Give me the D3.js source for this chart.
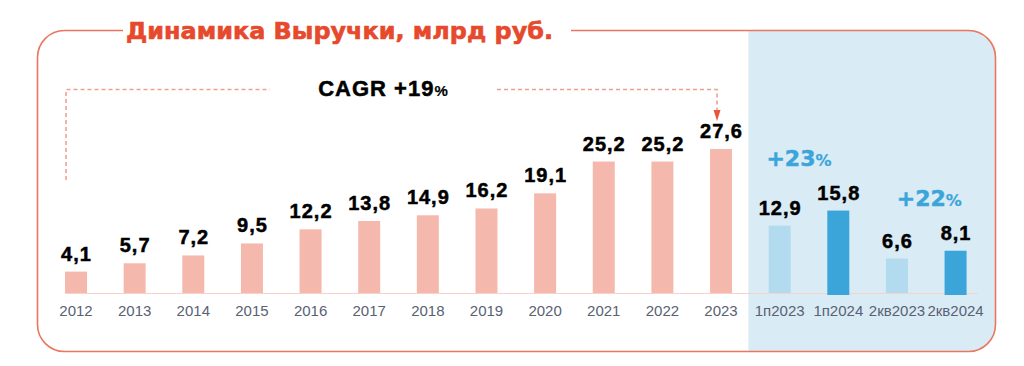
<!DOCTYPE html>
<html>
<head>
<meta charset="utf-8">
<script src="https://cdn.jsdelivr.net/npm/d3@7"></script>
<style>
  html, body { margin: 0; padding: 0; background: #fff; }
  svg { display: block; }
</style>
</head>
<body>
<svg id="chart" width="1024" height="366"></svg>
<script>
// revenue, bn rub
let categories = ['2012', '2013', '2014', '2015', '2016', '2017', '2018', '2019', '2020', '2021', '2022', '2023',
  '1п2023', '1п2024', '2кв2023', '2кв2024'];
let values = [4.1, 5.7, 7.2, 9.5, 12.2, 13.8, 14.9, 16.2, 19.1, 25.2, 25.2, 27.6, 12.9, 15.8, 6.6, 8.1];
// which colour group each bar belongs to
let groups = ['year', 'year', 'year', 'year', 'year', 'year', 'year', 'year', 'year', 'year', 'year', 'year',
  'prev', 'curr', 'prev', 'curr'];
let growth = [
  { from: '1п2023', to: '1п2024', text: '+23', dx: -10 },
  { from: '2кв2023', to: '2кв2024', text: '+22', dx: 3 }
];
let cagrText = 'CAGR +19';
let title = 'Динамика Выручки, млрд руб.';

let colorBar = { year: '#f4b9ac', prev: '#b2dbf0', curr: '#3ba5da' };
let colorBorder = '#ea7660';
let colorTitle = '#e6492c';
let colorPanel = '#d9ebf5';
let colorDash = '#f0a08f';
let colorGrowth = '#3ba5da';
let colorAxisText = '#596174';

let ru = d3.formatLocale({ decimal: ',', thousands: ' ', grouping: [3], currency: ['', ' руб.'] });
let fmt = ru.format('.1f');

let svg = d3.select('#chart');
let data = categories.map((c, i) => ({ cat: c, value: values[i], group: groups[i] }));

let x = d3.scaleBand()
  .domain(categories)
  .range([46.7, 984.9])
  .paddingInner(0.625)
  .paddingOuter(0.3125);
let y = d3.scaleLinear().domain([0, 30]).range([293, 136.5]);

// frame
let frame = { x: 37.5, y: 30.5, w: 958, h: 321, r: 27 };
svg.append('clipPath').attr('id', 'frameClip')
  .append('rect')
  .attr('x', frame.x).attr('y', frame.y)
  .attr('width', frame.w).attr('height', frame.h)
  .attr('rx', frame.r);

// blue panel behind the half-year / quarter bars
let panelX = x('1п2023') - (x.step() - x.bandwidth()) / 2 - 2;
svg.append('rect')
  .attr('clip-path', 'url(#frameClip)')
  .attr('x', panelX).attr('y', frame.y)
  .attr('width', 300).attr('height', frame.h)
  .attr('fill', colorPanel);

svg.append('rect')
  .attr('x', frame.x).attr('y', frame.y)
  .attr('width', frame.w).attr('height', frame.h)
  .attr('rx', frame.r)
  .attr('fill', 'none')
  .attr('stroke', colorBorder)
  .attr('stroke-width', 1.6);

// gap in the top border for the title
svg.append('rect')
  .attr('x', 123).attr('y', 25)
  .attr('width', 448).attr('height', 12)
  .attr('fill', '#fff');

svg.append('text')
  .attr('x', 126).attr('y', 39)
  .attr('font-family', 'DejaVu Sans')
  .attr('font-weight', 'bold')
  .attr('font-size', 23.5)
  .attr('textLength', 427)
  .attr('lengthAdjust', 'spacingAndGlyphs')
  .attr('fill', colorTitle)
  .attr('stroke', colorTitle)
  .attr('stroke-width', 0.6)
  .text(title);

// baseline
svg.append('line')
  .attr('x1', x(categories[0])).attr('x2', x(categories[categories.length - 1]) + x.bandwidth() + 11)
  .attr('y1', y(0) + 0.5).attr('y2', y(0) + 0.5)
  .attr('stroke', '#f7d2ca')
  .attr('stroke-width', 1);

// bars
svg.append('g').selectAll('rect')
  .data(data)
  .join('rect')
  .attr('x', d => x(d.cat))
  .attr('y', d => y(d.value))
  .attr('width', x.bandwidth())
  .attr('height', d => y(0) - y(d.value) + (d.group === 'curr' ? 2 : 0))
  .attr('fill', d => colorBar[d.group]);

// value labels
svg.append('g').selectAll('text')
  .data(data)
  .join('text')
  .attr('x', d => x(d.cat) + x.bandwidth() / 2 + 0.5)
  .attr('y', d => y(d.value) - 11)
  .attr('text-anchor', 'middle')
  .attr('font-family', 'Liberation Sans, Arial, sans-serif')
  .attr('font-weight', 'bold')
  .attr('font-size', 20)
  .attr('letter-spacing', 1)
  .attr('fill', '#000')
  .attr('stroke', '#000')
  .attr('stroke-width', 0.5)
  .text(d => fmt(d.value));

// category labels
let xAxis = d3.axisBottom(x).tickSize(0).tickPadding(0);
let axisG = svg.append('g')
  .attr('transform', 'translate(0,' + 305 + ')')
  .call(xAxis);
axisG.select('.domain').remove();
axisG.selectAll('text')
  .attr('dy', 0)
  .attr('y', 11)
  .attr('font-family', 'Liberation Sans, Arial, sans-serif')
  .attr('font-size', 15)
  .attr('fill', colorAxisText);

// CAGR bracket
let lx = x(categories[0]) + 1;
let rx = x('2023') + x.bandwidth() / 2 - 4;
let topY = 89.5;
svg.append('path')
  .attr('d', `M${lx},180 V${topY} H270 M497,${topY} H${rx} V110`)
  .attr('fill', 'none')
  .attr('stroke', colorDash)
  .attr('stroke-width', 1.6)
  .attr('stroke-dasharray', '4,3');
svg.append('path')
  .attr('d', `M${rx - 3.5},110 L${rx + 3.5},110 L${rx},121 Z`)
  .attr('fill', '#e8573a');

let cagr = svg.append('text')
  .attr('x', 383).attr('y', 96)
  .attr('text-anchor', 'middle')
  .attr('font-family', 'Liberation Sans, Arial, sans-serif')
  .attr('font-weight', 'bold')
  .attr('font-size', 22)
  .attr('letter-spacing', 1)
  .attr('fill', '#000')
  .attr('stroke', '#000')
  .attr('stroke-width', 0.5);
cagr.append('tspan').text(cagrText);
cagr.append('tspan').attr('font-size', 15).attr('letter-spacing', 0).attr('stroke-width', 0.2).text('%');

// growth annotations
growth.forEach(g => {
  let cx = (x(g.from) + x(g.to) + x.bandwidth()) / 2 + g.dx;
  let top = d3.max([g.from, g.to], c => values[categories.indexOf(c)]);
  let t = svg.append('text')
    .attr('x', cx).attr('y', y(top) - 45)
    .attr('text-anchor', 'middle')
    .attr('font-family', 'DejaVu Sans, sans-serif')
    .attr('font-weight', 'bold')
    .attr('font-size', 22)
    .attr('fill', colorGrowth)
    .attr('stroke', colorGrowth)
    .attr('stroke-width', 0.5);
  t.append('tspan').text(g.text);
  t.append('tspan').attr('font-size', 16).attr('stroke-width', 0.2).text('%');
});
</script>
</body>
</html>
